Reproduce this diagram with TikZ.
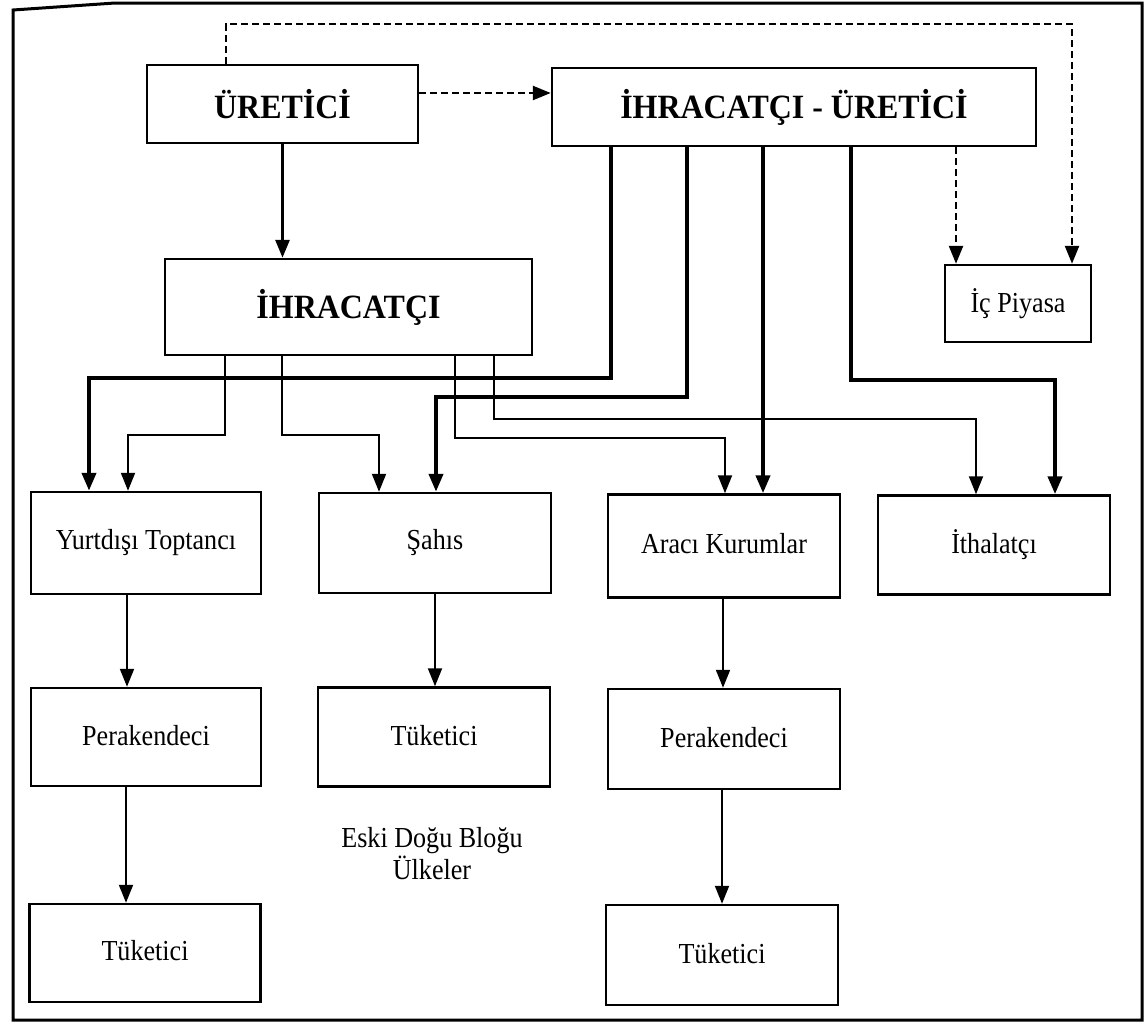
\documentclass[tikz,border=0pt]{standalone}
\usepackage{fontspec}
\setmainfont{Liberation Serif}
\newfontfamily\condfont[FakeStretch=0.9]{Liberation Serif}
\newfontfamily\condbold[FakeStretch=0.94]{Liberation Serif Bold}
\usetikzlibrary{arrows.meta}
\begin{document}
\begin{tikzpicture}[x=1pt,y=-1pt,
  box/.style={draw,line width=2.5pt,inner sep=0pt,align=center,font=\condfont\fontsize{29}{34}\selectfont},
  bigbox/.style={box,font=\condbold\fontsize{34}{40}\selectfont},
  tip/.style={-{Triangle[length=18pt,width=14pt]}},
  thick line/.style={tip,line width=4pt},
  thin line/.style={tip,line width=2pt},
  mid line/.style={tip,line width=3pt},
  dash line/.style={tip,line width=2.5pt,dash pattern=on 7pt off 4pt}]
\useasboundingbox (0,0) rectangle (1147,1034);
\draw[line width=3pt] (13,1020) -- (13,10) -- (115,3) -- (1142,3) -- (1142,1020) -- cycle;
% nodes
\node[bigbox,minimum width=271pt,minimum height=78pt] (uretici) at (282.5,104) {ÜRETİCİ};
\node[bigbox,minimum width=484pt,minimum height=78pt] (ihu) at (794,107) {İHRACATÇI - ÜRETİCİ};
\node[bigbox,minimum width=367pt,minimum height=96pt] (ihr) at (348.5,307) {İHRACATÇI};
\node[box,minimum width=146pt,minimum height=77pt] (ic) at (1018,303.5) {İç Piyasa};
\node[box,minimum width=230pt,minimum height=102pt] (yurt) at (146,543) {\raisebox{6pt}{Yurtdışı Toptancı}};
\node[box,minimum width=232pt,minimum height=100pt] (sahis) at (435,543) {\raisebox{4pt}{Şahıs}};
\node[box,minimum width=232pt,minimum height=103pt] (araci) at (724,546) {\raisebox{5pt}{Aracı Kurumlar}};
\node[box,minimum width=232pt,minimum height=99pt] (ithal) at (994,545) {\raisebox{4pt}{İthalatçı}};
\node[box,minimum width=230pt,minimum height=98pt] (per1) at (146,737) {\raisebox{4pt}{Perakendeci}};
\node[box,minimum width=232pt,minimum height=99pt] (tuk1) at (434,737) {\raisebox{3pt}{Tüketici}};
\node[box,minimum width=232pt,minimum height=100pt] (per2) at (724,739) {\raisebox{4pt}{Perakendeci}};
\node[box,minimum width=231pt,minimum height=98pt] (tuk2) at (145,953) {\raisebox{5pt}{Tüketici}};
\node[box,minimum width=232pt,minimum height=100pt] (tuk3) at (722,955) {\raisebox{3pt}{Tüketici}};
\node[align=center,inner sep=0pt,font=\condfont\fontsize{29}{32}\selectfont] (eski) at (432,854) {Eski Doğu Bloğu\\Ülkeler};
\coordinate (topline) at (0,24);
% dashed connectors
\draw[dash line] ([yshift=11pt]uretici.east) -- ([yshift=11pt]uretici.east -| ihu.west);
\draw[dash line] ([xshift=-56.5pt]uretici.north) -- ([xshift=-56.5pt]uretici.north |- topline) -| ([xshift=54pt]ic.north);
\draw[dash line] ([xshift=162pt]ihu.south) -- ([xshift=162pt]ihu.south |- ic.north);
% main arrow
\draw[mid line] (uretici.south) -- (uretici.south |- ihr.north);
% from İHRACATÇI - ÜRETİCİ
\draw[thick line] ([xshift=-183pt]ihu.south) -- ++(0,231) -| ([xshift=-57pt]yurt.north);
\draw[thick line] ([xshift=-107pt]ihu.south) -- ++(0,250) -| ([xshift=1pt]sahis.north);
\draw[thick line] ([xshift=-31pt]ihu.south) -- ([xshift=-31pt]ihu.south |- araci.north);
\draw[thick line] ([xshift=57pt]ihu.south) -- ++(0,233) -| ([xshift=61pt]ithal.north);
% from İHRACATÇI
\draw[thin line] ([xshift=-123.5pt]ihr.south) -- ++(0,79) -| ([xshift=-18pt]yurt.north);
\draw[thin line] ([xshift=-66.5pt]ihr.south) -- ++(0,79) -| ([xshift=-56pt]sahis.north);
\draw[thin line] ([xshift=106.5pt]ihr.south) -- ++(0,82) -| ([xshift=1pt]araci.north);
\draw[thin line] ([xshift=145.5pt]ihr.south) -- ++(0,63) -| ([xshift=-18pt]ithal.north);
% vertical chains
\draw[thin line] ([xshift=-19pt]yurt.south) -- ([xshift=-19pt]yurt.south |- per1.north);
\draw[thin line] ([xshift=-20pt]per1.south) -- ([xshift=-20pt]per1.south |- tuk2.north);
\draw[thin line] (sahis.south) -- (sahis.south |- tuk1.north);
\draw[thin line] ([xshift=-1pt]araci.south) -- ([xshift=-1pt]araci.south |- per2.north);
\draw[thin line] ([xshift=-2pt]per2.south) -- ([xshift=-2pt]per2.south |- tuk3.north);
\end{tikzpicture}
\end{document}
